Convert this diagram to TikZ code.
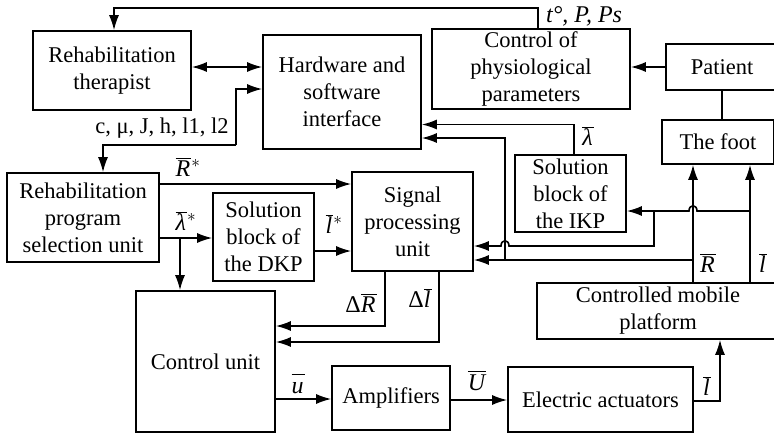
\documentclass[tikz,border=0pt]{standalone}
\usepackage{fontspec}
\setmainfont{Liberation Serif}
\usetikzlibrary{arrows.meta}
% italic signal name with an overbar
\newcommand{\vsig}[1]{$\overline{\mbox{\rule{0pt}{0.74em}\itshape #1\kern1pt}}$}
\begin{document}
\begin{tikzpicture}[x=1pt,y=-1pt,
  box/.style={draw, line width=1.6pt, align=center, inner sep=0pt},
  wire/.style={line width=1.6pt},
  arr/.style={wire, -{Latex[length=15pt,width=10pt]}},
  arrboth/.style={wire, {Latex[length=15pt,width=10pt]}-{Latex[length=15pt,width=10pt]}},
  lbl/.style={inner sep=0pt, font=\fontsize{24}{28}\selectfont},
  font=\fontsize{22.5}{27}\selectfont]
\useasboundingbox (0,0) rectangle (774,434);
\clip (0,0) rectangle (774,434);

% blocks
\node[box, minimum width=158pt, minimum height=79pt]  (ther) at (112,70.5)  {Rehabilitation\\therapist};
\node[box, minimum width=158pt, minimum height=114pt] (hw)   at (342,92)    {Hardware and\\software\\interface};
\node[box, minimum width=198pt, minimum height=80pt]  (cpp)  at (531,69)    {Control of\\physiological\\parameters};
\node[box, minimum width=112pt, minimum height=46pt]  (pat)  at (722,67)    {Patient};
\node[box, minimum width=112pt, minimum height=44pt]  (foot) at (718,142)   {The foot};
\node[box, minimum width=152pt, minimum height=89pt]  (prog) at (83,217.5)  {Rehabilitation\\program\\selection unit};
\node[box, minimum width=101pt, minimum height=88pt]  (dkp)  at (263.5,237) {Solution\\block of\\the DKP};
\node[box, minimum width=121pt, minimum height=99pt]  (spu)  at (412.5,221.5){Signal\\processing\\unit};
\node[box, minimum width=111pt, minimum height=77pt]  (ikp)  at (570.5,193.5){Solution\\block of\\the IKP};
\node[box, minimum width=242pt, minimum height=56pt]  (cmp)  at (658,311)   {Controlled mobile\\platform};
\node[box, minimum width=139pt, minimum height=141pt] (cu)   at (205.5,361.5){Control unit};
\node[box, minimum width=118pt, minimum height=64pt]  (amp)  at (391,398)   {Amplifiers};
\node[box, minimum width=185pt, minimum height=65pt]  (ea)   at (600.5,399.5){Electric actuators};

% bend points
\coordinate (fbR) at (538,8);
\coordinate (fbL) at (114,8);
\coordinate (pj)  at (236,145);
\coordinate (pd)  at (103,145);
\coordinate (lamTop) at (574,124.5);
\coordinate (xR)  at (693,0);
\coordinate (xL)  at (750,0);
\coordinate (jIKP) at (750,211);
\coordinate (bIKP) at (654,211);
\coordinate (jR)  at (693,260);
\coordinate (up)  at (505,260);
\coordinate (lamS) at (180,238);
\coordinate (dR)  at (385,326);
\coordinate (dL)  at (439,342);
\coordinate (lout) at (720,401);

% feedback from physiological parameters to the therapist
\draw[arr] (cpp.north -| fbR) -- (fbR) -- (fbL) -- (fbL |- ther.north);
\node[lbl, anchor=west] (tpp) at (546,16) {\itshape t°, P, Ps};

% therapist <-> interface
\draw[arrboth] (ther.east |- 0,67) -- (hw.west |- 0,67);

% program parameters
\draw[arr] (pj) -- (pj |- 0,89) -- (hw.west |- 0,89);
\draw[arr] (pj) -- (pd) -- (prog.north -| pd);
\node[inner sep=0pt] (par) at (162,128) {c, μ, J, h, l1, l2};

% patient
\draw[arr] (pat.west) -- (cpp.east |- pat.west);
\draw[wire] (pat.south) -- (pat.south |- foot.north);

% IKP output to the interface
\draw[arr] (ikp.north -| lamTop) -- (lamTop) -- (hw.east |- lamTop);
\node[lbl] (lam) at (588,136) {\vsig{λ}};

% platform outputs to the foot
\draw[arr] (cmp.north -| xR) -- (foot.south -| xR);
\draw[arr] (cmp.north -| xL) -- (foot.south -| xL);
\node[lbl] (Rb) at (708,263) {\vsig{R}};
\node[lbl] (lb) at (763,263) {\vsig{l}};

% l to the IKP block and to signal processing
\draw[arr] (jIKP) -- (697,211) .. controls (697,204) and (689,204) .. (689,211) -- (ikp.east |- jIKP);
\draw[arr] (bIKP) -- (654,246) -- (509,246) .. controls (509,239) and (501,239) .. (501,246) -- (spu.east |- 0,246);

% R to signal processing and to the interface
\draw[arr] (jR) -- (spu.east |- jR);
\draw[arr] (up) -- (505,138) -- (hw.east |- 0,138);

% program selection outputs
\draw[arr] (prog.east |- 0,184) -- (spu.west |- 0,184);
\node[lbl] (Rs) at (188,167) {\vsig{R}$^{*}$};
\draw[arr] (prog.east |- lamS) -- (dkp.west |- lamS);
\draw[arr] (lamS) -- (cu.north -| lamS);
\node[lbl] (ls) at (186,221) {\vsig{λ}$^{*}$};
\draw[arr] (dkp.east |- 0,251) -- (spu.west |- 0,251);
\node[lbl] (lst) at (334,224) {\vsig{l}$^{*}$};

% errors to the control unit
\draw[arr] (spu.south -| dR) -- (dR) -- (cu.east |- dR);
\draw[arr] (spu.south -| dL) -- (dL) -- (cu.east |- dL);
\node[lbl] (dRl) at (361,303) {Δ\vsig{R}};
\node[lbl] (dLl) at (420,298) {Δ\vsig{l}};

% drive chain
\draw[arr] (cu.east |- 0,399) -- (amp.west |- 0,399);
\node[lbl] (ul) at (298,384) {\vsig{u}};
\draw[arr] (amp.east |- 0,400) -- (ea.west |- 0,400);
\node[lbl] (Ul) at (477,381) {\vsig{U}};
\draw[arr] (ea.east |- lout) -- (lout) -- (cmp.south -| lout);
\node[lbl] (ll) at (707,386) {\vsig{l}};
\end{tikzpicture}
\end{document}
